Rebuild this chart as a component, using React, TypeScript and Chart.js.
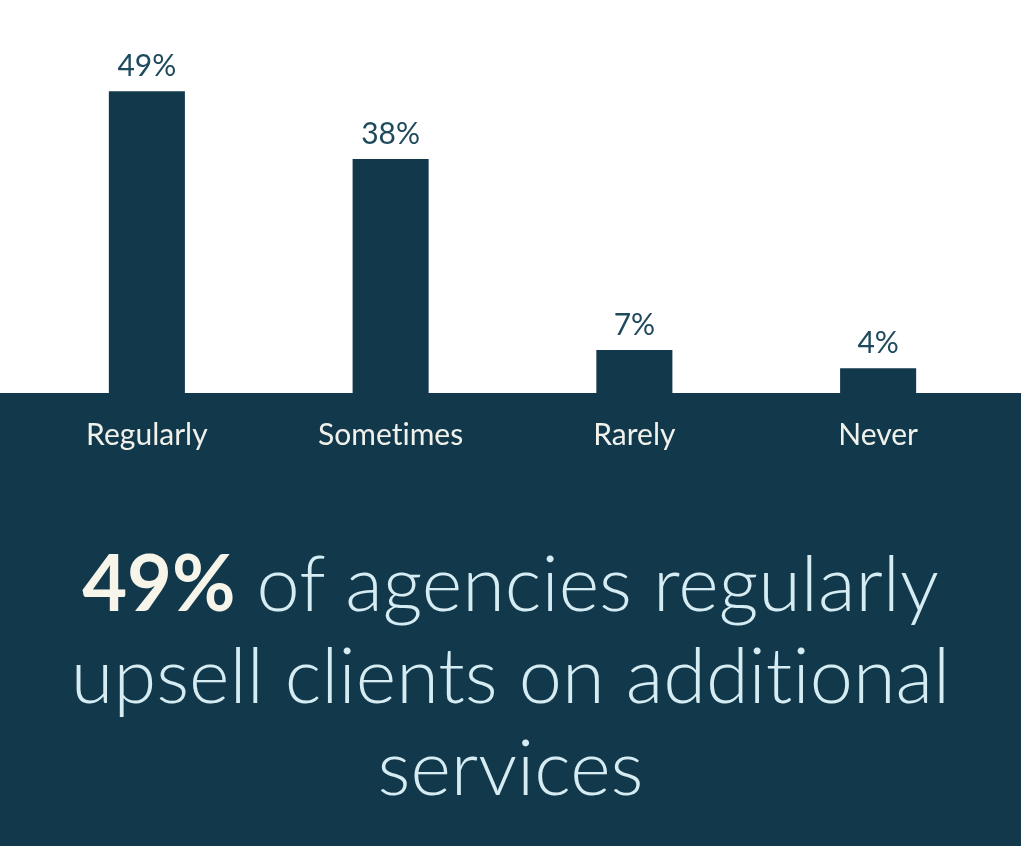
import React, { useEffect, useRef } from "react";
import { Chart, registerables } from "chart.js";

Chart.register(...registerables);

const categories: string[] = ["Regularly", "Sometimes", "Rarely", "Never"];
const values: number[] = [49, 38, 7, 4];
const valueLabels: string[] = ["49%", "38%", "7%", "4%"];
const headlineBold = "49%";
const headlineLines: string[] = [
  " of agencies regularly",
  "upsell clients on additional",
  "services",
];

const DARK = "#12394b";

const panelPlugin = {
  id: "panel",
  beforeDraw(chart: any) {
    const { ctx, chartArea } = chart;
    // a tiny letter spacing switches off the "ti" ligature, as in the reference
    (ctx as any).letterSpacing = "0.01px";
    ctx.save();
    ctx.fillStyle = DARK;
    ctx.fillRect(0, chartArea.bottom, 1021, 846 - chartArea.bottom);
    ctx.restore();
  },
};

const valueLabelPlugin = {
  id: "valueLabels",
  afterDatasetsDraw(chart: any) {
    const { ctx } = chart;
    const meta = chart.getDatasetMeta(0);
    ctx.save();
    ctx.fillStyle = "#1f4a5d";
    ctx.font = "30px Lato";
    ctx.textAlign = "center";
    ctx.textBaseline = "alphabetic";
    meta.data.forEach((bar: any, i: number) => {
      ctx.fillText(valueLabels[i], bar.x, bar.y - 15);
    });
    ctx.restore();
  },
};

export default function App() {
  const ref = useRef<HTMLCanvasElement | null>(null);
  useEffect(() => {
    if (!ref.current) return;
    const chart = new Chart(ref.current, {
      type: "bar",
      data: {
        labels: categories,
        datasets: [
          {
            data: values,
            backgroundColor: DARK,
            borderWidth: 0,
            barPercentage: 0.312,
            categoryPercentage: 1,
          },
        ],
      },
      options: {
        animation: false,
        responsive: false,
        maintainAspectRatio: false,
        layout: { padding: { top: 85, left: 25, right: 24, bottom: 0 } },
        plugins: { legend: { display: false }, tooltip: { enabled: false }, title: { display: false } },
        scales: {
          y: { display: false, min: 0, max: 50 },
          x: {
            grid: { display: false, drawTicks: false },
            border: { display: false },
            ticks: {
              color: "#f1f1ec",
              font: { family: "Lato", size: 30 },
              padding: 24,
            },
            afterFit: (scale: any) => {
              scale.height = 470;
            },
          },
        },
      },
      plugins: [panelPlugin, valueLabelPlugin],
    });
    return () => chart.destroy();
  }, []);

  return (
    <div style={{ position: "absolute", left: 0, top: 0, width: 1024, height: 863, background: "#fff" }}>
      <canvas ref={ref} width={1024} height={863} style={{ display: "block" }} />
      <div
        style={{
          position: "absolute",
          left: 0,
          top: 536,
          width: 1021,
          textAlign: "center",
          fontFamily: "Lato",
          fontSize: 77.5,
          lineHeight: "92px",
          fontWeight: 300,
          fontVariantLigatures: "none",
          color: "#d6ecf3",
        }}
      >
        <span style={{ fontWeight: 700, color: "#f7f4ea" }}>{headlineBold}</span>
        {headlineLines[0]}
        <br />
        {headlineLines[1]}
        <br />
        {headlineLines[2]}
      </div>
    </div>
  );
}
